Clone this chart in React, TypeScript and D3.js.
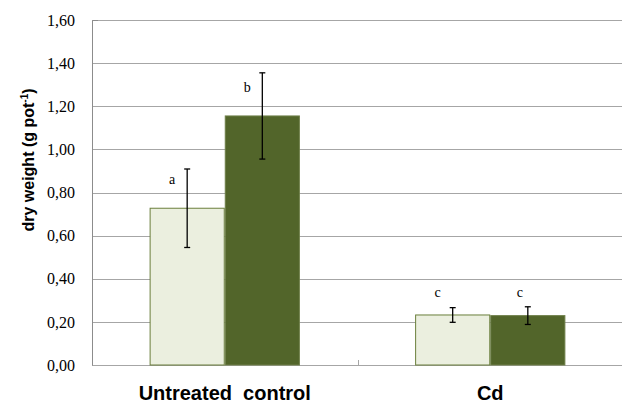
import { useEffect, useRef } from "react";
import * as d3 from "d3";

// groups on the x axis
const categories = ["Untreated  control", "Cd"];
// two series per group: light bar, dark bar
const seriesLight = [0.727, 0.232];
const seriesDark = [1.155, 0.229];
const errLight = [0.182, 0.034];
const errDark = [0.2, 0.041];
// significance letters and where they sit (value units)
const lettersLight = ["a", "c"];
const lettersDark = ["b", "c"];
const letterYLight = [0.84, 0.317];
const letterYDark = [1.266, 0.317];
const yTicks = [0, 0.2, 0.4, 0.6, 0.8, 1.0, 1.2, 1.4, 1.6];

const SERIF = '"Liberation Serif", "DejaVu Serif", serif';
const SANS = '"Liberation Sans", Arial, sans-serif';

const App = () => {
  const svgRef = useRef<SVGSVGElement>(null);

  useEffect(() => {
    const W = 622;
    const H = 404;
    const margin = { top: 20, right: -1, bottom: 39, left: 92 };
    const width = W - margin.left - margin.right;
    const height = H - margin.top - margin.bottom;

    d3.select(svgRef.current).selectAll("*").remove();

    const svg = d3
      .select(svgRef.current)
      .attr("width", W)
      .attr("height", H)
      .append("g")
      .attr("transform", `translate(${margin.left},${margin.top})`);

    const x = d3.scaleBand().domain(categories).range([0, width]).paddingInner(0).paddingOuter(0);
    const barW = x.bandwidth() * 0.283;

    const y = d3.scaleLinear().domain([0, 1.6]).range([height, 0]);

    // gridlines
    svg
      .append("g")
      .selectAll("line")
      .data(yTicks)
      .enter()
      .append("line")
      .attr("x1", 0)
      .attr("x2", width)
      .attr("y1", (d) => Math.round(y(d)) + 0.5)
      .attr("y2", (d) => Math.round(y(d)) + 0.5)
      .attr("stroke", "#a6a6a6")
      .attr("stroke-width", 1);

    // y axis
    const yAxis = svg
      .append("g")
      .call(
        d3
          .axisLeft(y)
          .tickValues(yTicks)
          .tickSize(0)
          .tickPadding(17)
          .tickFormat((d) => d3.format(".2f")(d as number).replace(".", ","))
      );
    yAxis.attr("font-family", SERIF).attr("font-size", 16);
    yAxis.select(".domain").attr("stroke", "#8c8c8c").attr("d", `M0.5,${height + 0.5}V0.5H6`);
    yAxis
      .selectAll("text")
      .attr("font-family", SERIF)
      .style("font-family", SERIF)
      .style("font-size", "16px")
      .attr("fill", "#000");

    // bottom axis tick between groups
    svg
      .append("line")
      .attr("x1", Math.round(x(categories[1])!) + 0.5)
      .attr("x2", Math.round(x(categories[1])!) + 0.5)
      .attr("y1", height - 5)
      .attr("y2", height)
      .attr("stroke", "#a6a6a6");

    const groups = categories.map((c, i) => ({
      c,
      cx: x(c)! + x.bandwidth() / 2,
      i,
    }));

    const bars = [
      { vals: seriesLight, errs: errLight, letters: lettersLight, ly: letterYLight, fill: "#ebefdf", stroke: "#6b7f3c", off: -1, lx: -15 },
      { vals: seriesDark, errs: errDark, letters: lettersDark, ly: letterYDark, fill: "#52652a", stroke: "#6e7f48", off: 0, lx: -15 },
    ];

    bars.forEach((s, si) => {
      const g = svg.append("g");
      g.selectAll("rect")
        .data(groups)
        .enter()
        .append("rect")
        .attr("x", (d) => d.cx + s.off * barW + 0.5)
        .attr("y", (d) => y(s.vals[d.i]))
        .attr("width", barW - 1)
        .attr("height", (d) => height - y(s.vals[d.i]))
        .attr("fill", s.fill)
        .attr("stroke", s.stroke)
        .attr("stroke-width", 1);

      const ex = (d: { cx: number }) => d.cx + s.off * barW + barW / 2;

      // error bars
      g.selectAll("line.err")
        .data(groups)
        .enter()
        .append("line")
        .attr("x1", ex)
        .attr("x2", ex)
        .attr("y1", (d) => y(s.vals[d.i] + s.errs[d.i]))
        .attr("y2", (d) => y(s.vals[d.i] - s.errs[d.i]))
        .attr("stroke", "#000")
        .attr("stroke-width", 1.3);
      [1, -1].forEach((sign) => {
        g.selectAll(`line.cap${sign}`)
          .data(groups)
          .enter()
          .append("line")
          .attr("x1", (d) => ex(d) - 3)
          .attr("x2", (d) => ex(d) + 3)
          .attr("y1", (d) => y(s.vals[d.i] + sign * s.errs[d.i]))
          .attr("y2", (d) => y(s.vals[d.i] + sign * s.errs[d.i]))
          .attr("stroke", "#000")
          .attr("stroke-width", 1.3);
      });

      // letters
      g.selectAll("text")
        .data(groups)
        .enter()
        .append("text")
        .attr("x", (d) => ex(d) + (d.i === 1 && si === 1 ? -8 : s.lx))
        .attr("y", (d) => y(s.ly[d.i]))
        .attr("text-anchor", "middle")
        .style("font-family", SERIF)
        .style("font-size", "14px")
        .attr("fill", "#000")
        .text((d) => s.letters[d.i]);
    });

    // category labels
    svg
      .append("g")
      .selectAll("text")
      .data(groups)
      .enter()
      .append("text")
      .attr("x", (d) => d.cx)
      .attr("y", height + 35)
      .attr("text-anchor", "middle")
      .style("font-family", SANS)
      .style("font-weight", "bold")
      .style("font-size", "20px")
      .style("white-space", "pre")
      .attr("fill", "#000")
      .text((d) => d.c);

    // y axis title
    const title = svg
      .append("text")
      .attr("transform", `translate(${-58},${140}) rotate(-90)`)
      .attr("text-anchor", "middle")
      .style("font-family", SANS)
      .style("font-weight", "bold")
      .style("font-size", "16px")
      .attr("fill", "#000");
    title.append("tspan").text("dry weight (g pot");
    title.append("tspan").attr("dy", -6).style("font-size", "10px").text("-1");
    title.append("tspan").attr("dy", 6).text(")");
  }, []);

  return (
    <svg
      ref={svgRef}
      style={{ position: "absolute", left: 0, top: 0, display: "block" }}
    ></svg>
  );
};

export default App;
